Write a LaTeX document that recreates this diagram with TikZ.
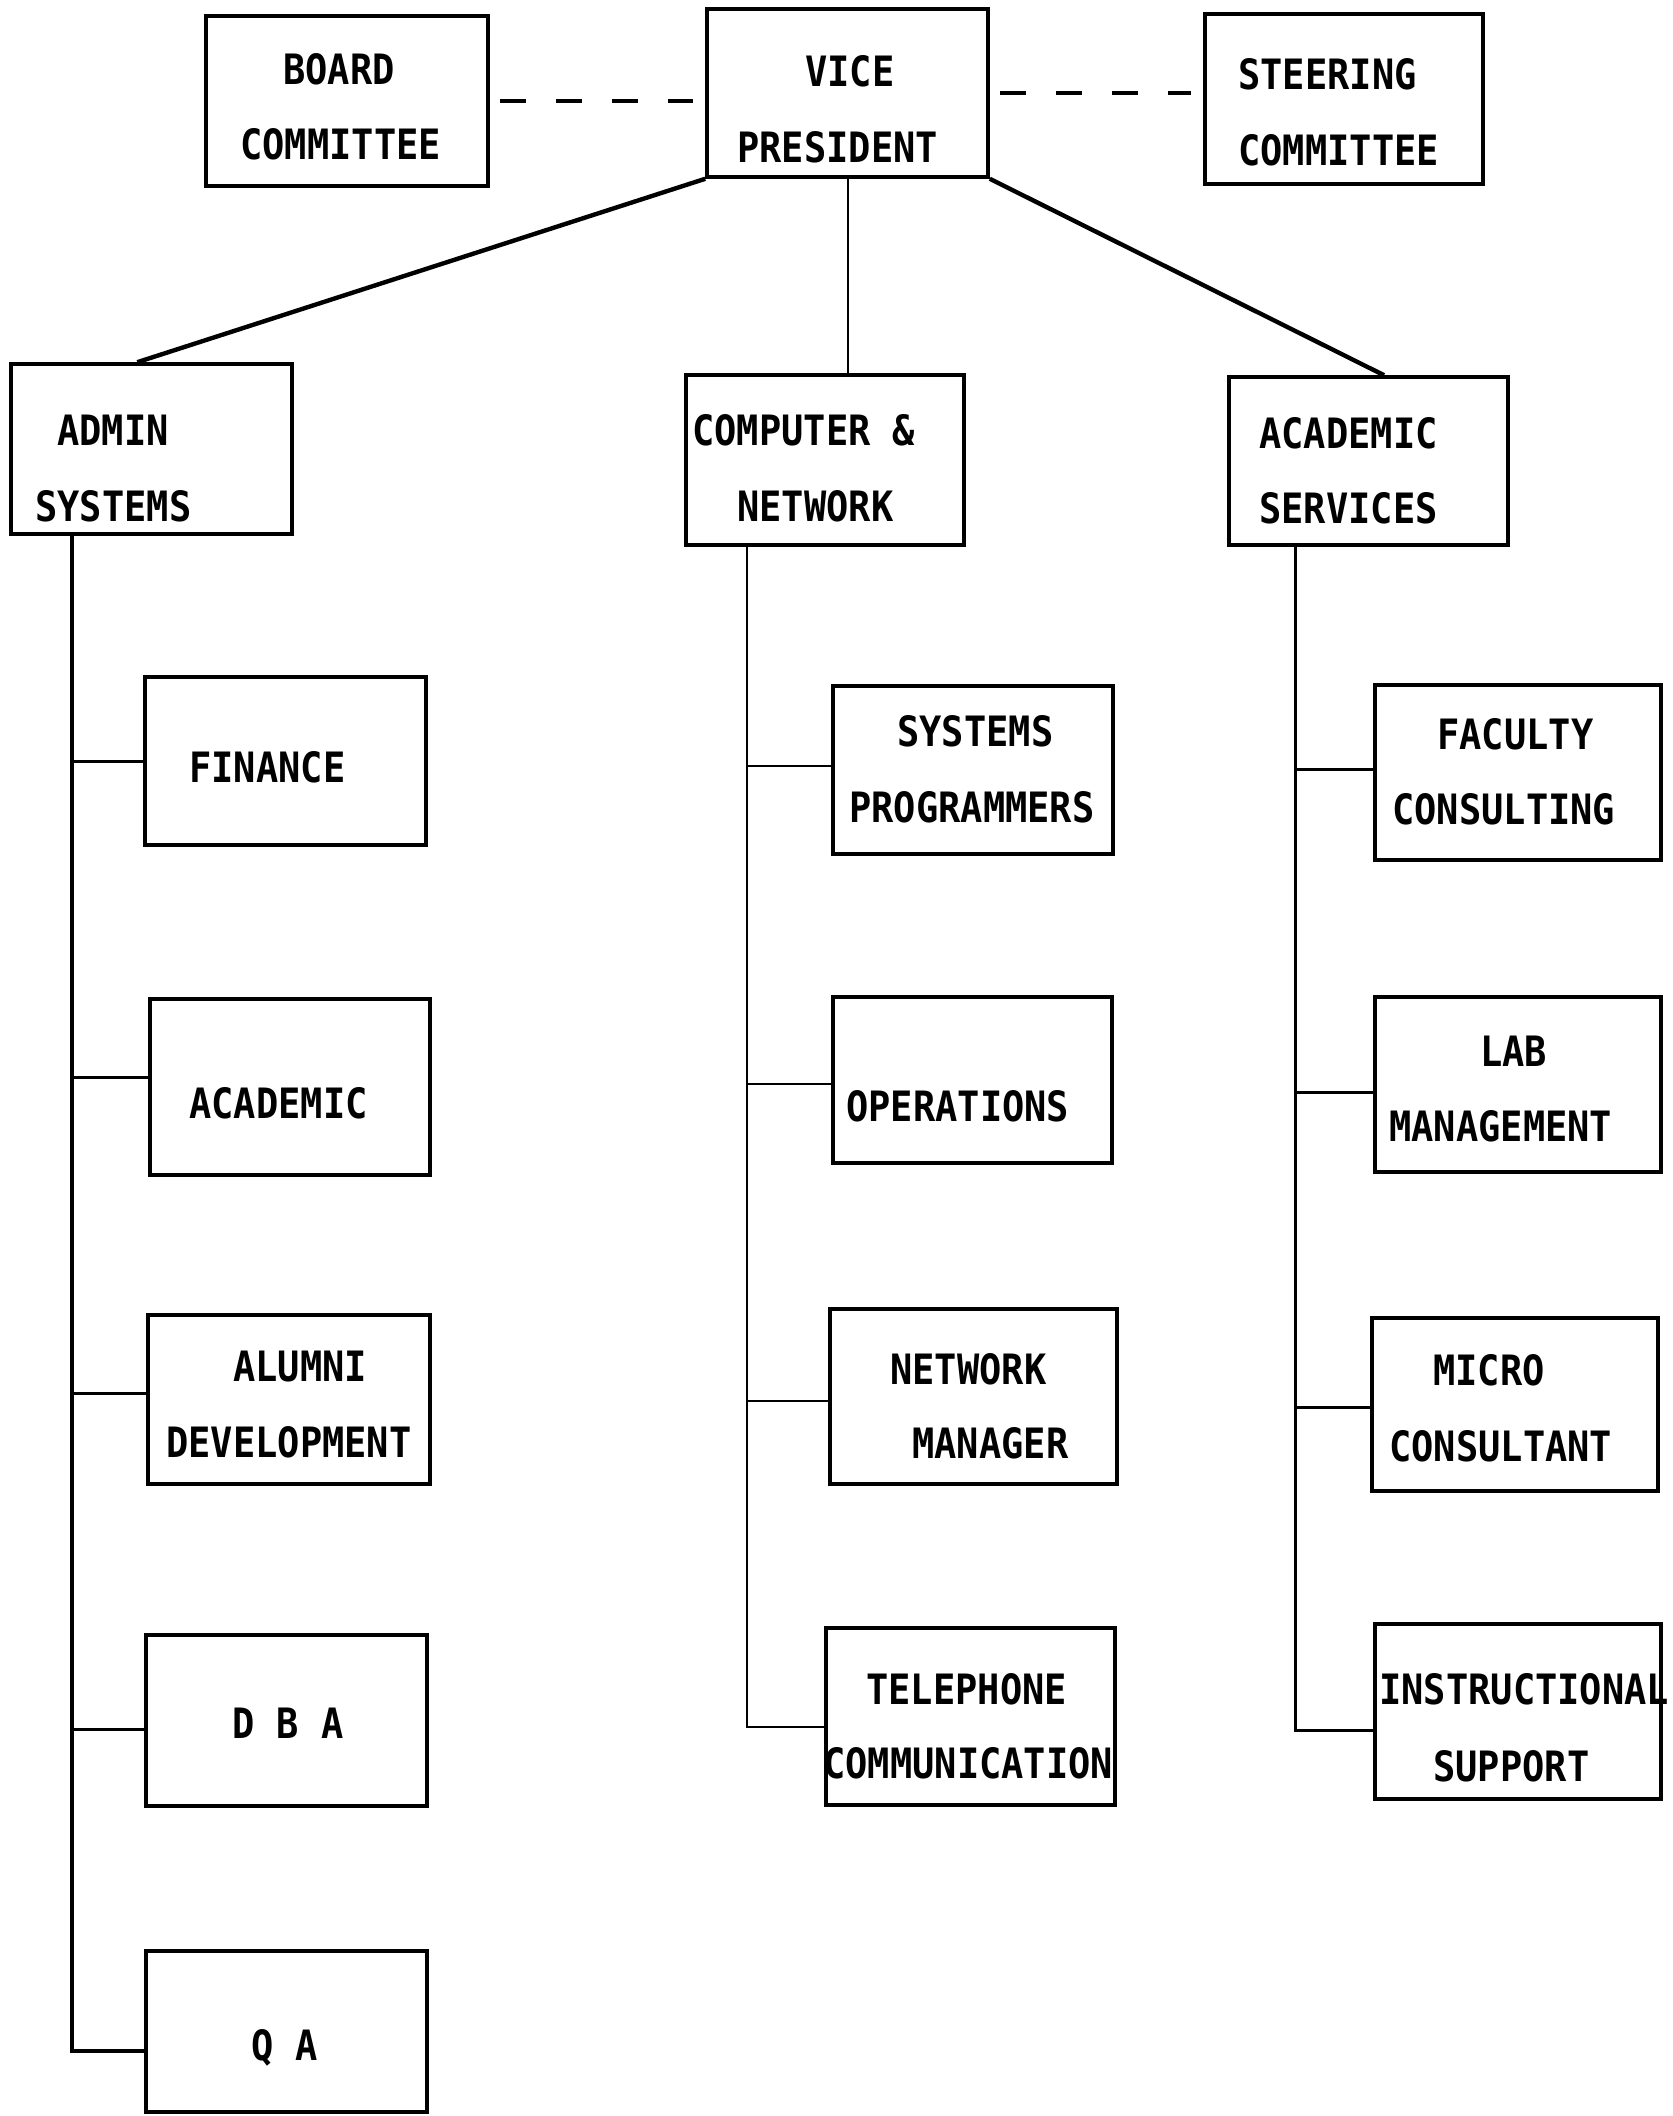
\documentclass[tikz,border=0pt]{standalone}
\usepackage{fontspec}
\newfontfamily\chartfont[FakeStretch=0.885]{DejaVu Sans Mono}
\usetikzlibrary{fit,calc}
\tikzset{
  box/.style={draw, line width=1.8pt, inner sep=0pt},
  lbl/.style={anchor=base west, inner sep=0pt, font=\chartfont\bfseries\fontsize{20.9pt}{25pt}\selectfont},
  dashlink/.style={line width=2pt, dash pattern=on 13pt off 15pt, shorten <=5pt, shorten >=6pt},
  diag/.style={line width=2.2pt},
  vthin/.style={line width=1pt},
  trunk/.style={line width=1.5pt},
}
\begin{document}
\begin{tikzpicture}[x=0.5pt,y=-0.5pt]
\useasboundingbox (0,0) rectangle (1673,2116);
% top row
\node[box, fit={(206,16) (488,186)}] (board) {};
\node[box, fit={(707,9) (988,177)}] (vp) {};
\node[box, fit={(1205,14) (1483,184)}] (steer) {};
% second row
\node[box, fit={(11,364) (292,534)}] (admin) {};
\node[box, fit={(686,375) (964,545)}] (comp) {};
\node[box, fit={(1229,377) (1508,545)}] (acad) {};
% admin column
\node[box, fit={(145,677) (426,845)}] (fin) {};
\node[box, fit={(150,999) (430,1175)}] (acadm) {};
\node[box, fit={(148,1315) (430,1484)}] (alum) {};
\node[box, fit={(146,1635) (427,1806)}] (dba) {};
\node[box, fit={(146,1951) (427,2112)}] (qa) {};
% computer column
\node[box, fit={(833,686) (1113,854)}] (sysp) {};
\node[box, fit={(833,997) (1112,1163)}] (ops) {};
\node[box, fit={(830,1309) (1117,1484)}] (netm) {};
\node[box, fit={(826,1628) (1115,1805)}] (tel) {};
% academic column
\node[box, fit={(1375,685) (1661,860)}] (fac) {};
\node[box, fit={(1375,997) (1661,1172)}] (lab) {};
\node[box, fit={(1372,1318) (1658,1491)}] (micro) {};
\node[box, fit={(1375,1624) (1661,1799)}] (instr) {};

% texts
\node[lbl] (board-a) at (283,84) {BOARD};
\node[lbl] (board-b) at (240,159) {COMMITTEE};
\node[lbl] (vp-a) at (805,86) {VICE};
\node[lbl] (vp-b) at (737,162) {PRESIDENT};
\node[lbl] (steer-a) at (1238,89) {STEERING};
\node[lbl] (steer-b) at (1238,165) {COMMITTEE};
\node[lbl] (admin-a) at (57,445) {ADMIN};
\node[lbl] (admin-b) at (35,521) {SYSTEMS};
\node[lbl] (comp-a) at (692,445) {COMPUTER \&};
\node[lbl] (comp-b) at (737,521) {NETWORK};
\node[lbl] (acad-a) at (1259,448) {ACADEMIC};
\node[lbl] (acad-b) at (1259,523) {SERVICES};
\node[lbl] (fin-a) at (189,782) {FINANCE};
\node[lbl] (acadm-a) at (189,1118) {ACADEMIC};
\node[lbl] (alum-a) at (233,1381) {ALUMNI};
\node[lbl] (alum-b) at (166,1457) {DEVELOPMENT};
\node[lbl] (dba-a) at (232,1738) {D B A};
\node[lbl] (qa-a) at (251,2060) {Q A};
\node[lbl] (sysp-a) at (897,746) {SYSTEMS};
\node[lbl] (sysp-b) at (849,822) {PROGRAMMERS};
\node[lbl] (ops-a) at (846,1121) {OPERATIONS};
\node[lbl] (netm-a) at (890,1384) {NETWORK};
\node[lbl] (netm-b) at (912,1458) {MANAGER};
\node[lbl] (tel-a) at (866,1704) {TELEPHONE};
\node[lbl] (tel-b) at (823,1778) {COMMUNICATION};
\node[lbl] (fac-a) at (1437,749) {FACULTY};
\node[lbl] (fac-b) at (1392,824) {CONSULTING};
\node[lbl] (lab-a) at (1480,1066) {LAB};
\node[lbl] (lab-b) at (1389,1141) {MANAGEMENT};
\node[lbl] (micro-a) at (1433,1385) {MICRO};
\node[lbl] (micro-b) at (1389,1461) {CONSULTANT};
\node[lbl] (instr-a) at (1379,1704) {INSTRUCTIONAL};
\node[lbl] (instr-b) at (1433,1781) {SUPPORT};

% dashed links
\draw[dashlink] (board.east) -- (board.east -| vp.west);
\draw[dashlink] (vp.east) -- (vp.east -| steer.west);

% VP to departments
\draw[diag] (vp.south west) -- ($(admin.north west)!0.45!(admin.north east)$);
\draw[vthin] (vp.south) -- (vp.south |- comp.north);
\draw[diag] (vp.south east) -- ($(acad.north west)!0.555!(acad.north east)$);

% admin trunk
\coordinate (adminT) at (72,534);
\draw[trunk] (adminT) |- (fin.west);
\draw[trunk] (adminT) |- ([yshift=5pt]acadm.west);
\draw[trunk] (adminT) |- ([yshift=3pt]alum.west);
\draw[trunk] (adminT) |- ([yshift=-4.5pt]dba.west);
\draw[line width=2pt] (adminT) |- ([yshift=-9.5pt]qa.west);

% computer trunk
\coordinate (compT) at (747,545);
\draw[vthin] (compT) |- ([yshift=2pt]sysp.west);
\draw[vthin] (compT) |- ([yshift=-2pt]ops.west);
\draw[vthin] (compT) |- ([yshift=-2pt]netm.west);
\draw[vthin] (compT) |- ([yshift=-5pt]tel.west);

% academic trunk
\coordinate (acadT) at (1295,545);
\draw[trunk] (acadT) |- ([yshift=1.5pt]fac.west);
\draw[trunk] (acadT) |- ([yshift=-4pt]lab.west);
\draw[trunk] (acadT) |- ([yshift=-1.5pt]micro.west);
\draw[trunk] (acadT) |- ([yshift=-9.5pt]instr.west);
\end{tikzpicture}
\end{document}
